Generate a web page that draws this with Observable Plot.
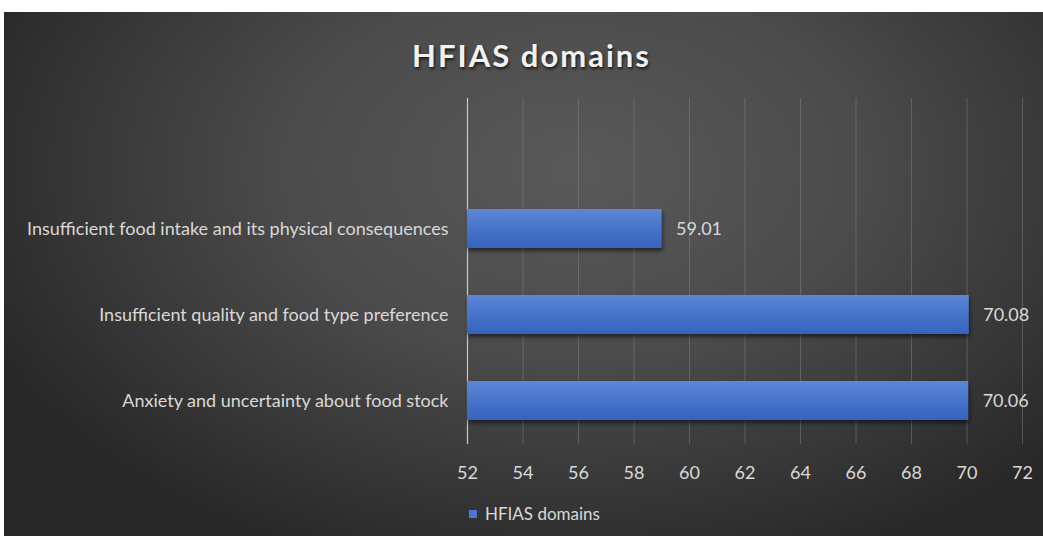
<!DOCTYPE html>
<html><head><meta charset="utf-8">
<script src="https://cdn.jsdelivr.net/npm/d3@7"></script>
<script src="https://cdn.jsdelivr.net/npm/@observablehq/plot@0.6"></script>
<style>
body{margin:0;background:#fff;}
#wrap{position:relative;width:1043px;height:536px;overflow:hidden;background:#fff;}
#panel{position:absolute;left:4px;top:12px;width:1039px;height:524px;
  background:radial-gradient(ellipse 62% 80% at 55% 30%, #595959 0%, #4b4b4b 45%, #353535 80%, #282828 100%);}
#title{position:absolute;top:36px;left:10px;width:1043px;text-align:center;font-family:Lato,"Open Sans",sans-serif;font-weight:bold;font-size:31px;letter-spacing:2px;color:#f2f2f2;text-shadow:1px 2px 3px rgba(0,0,0,0.7);}
#chart{position:absolute;left:0;top:0;}
#legend{position:absolute;top:503px;left:469px;font-family:Lato,"Open Sans",sans-serif;font-size:17px;color:#d9d9d9;display:flex;align-items:center;}
#legend span.sw{display:inline-block;width:8px;height:8px;background:#4a78d6;margin-right:8px;}
</style></head>
<body>
<div id="wrap">
  <div id="panel"></div>
  <div id="chart"></div>
  <div id="title">HFIAS domains</div>
  <div id="legend"><span class="sw"></span>HFIAS domains</div>
</div>
<script>
const categories = [
  "Anxiety and uncertainty about food stock",
  "Insufficient quality and food type preference",
  "Insufficient food intake and its physical consequences"
];
const values = [70.06, 70.08, 59.01];
const xTicks = [52, 54, 56, 58, 60, 62, 64, 66, 68, 70, 72];
const baseline = 52;

const data = categories.map((c, i) => ({category: c, value: values[i]}));
const yDomain = ["", ...categories.slice().reverse()];

const plot = Plot.plot({
  width: 1043,
  height: 536,
  marginLeft: 467,
  marginRight: 21,
  marginTop: 98,
  marginBottom: 92,
  style: {background: "transparent", fontFamily: "Lato, 'Open Sans', sans-serif", color: "#d9d9d9"},
  x: {domain: [52, 72], ticks: xTicks, tickSize: 0, tickPadding: 22, label: null, tickFormat: d => d},
  y: {domain: yDomain, paddingInner: 0.55, paddingOuter: 0.275, tickSize: 0, tickPadding: 19, label: null},
  marks: [
    Plot.ruleX(xTicks.filter(d => d !== baseline), {stroke: "#8a8a8a", strokeOpacity: 0.45, strokeWidth: 1}),
    Plot.ruleX([baseline], {stroke: "#c8c8c8", strokeWidth: 1.2}),
    Plot.barX(data, {y: "category", x1: baseline, x2: "value", fill: "url(#barGrad)"}),
    Plot.text(data, {y: "category", x: "value", text: d => d.value.toFixed(2), dx: 14, textAnchor: "start", fill: "#d9d9d9", fontSize: 18}),
    Plot.axisX({ticks: xTicks, tickSize: 0, tickPadding: 22, fontSize: 18, fill: "#d9d9d9", label: null}),
    Plot.axisY({tickSize: 0, tickPadding: 19, fontSize: 18, fill: "#d9d9d9", label: null, tickFormat: d => d})
  ]
});

const svg = d3.select(plot);
const defs = svg.insert("defs", ":first-child");
const g = defs.append("linearGradient").attr("id", "barGrad").attr("x1", 0).attr("x2", 0).attr("y1", 0).attr("y2", 1);
g.append("stop").attr("offset", "0%").attr("stop-color", "#5d87d8");
g.append("stop").attr("offset", "55%").attr("stop-color", "#4471c8");
g.append("stop").attr("offset", "100%").attr("stop-color", "#3763bd");
const f = defs.append("filter").attr("id", "shadow").attr("x", "-5%").attr("y", "-20%").attr("width", "115%").attr("height", "160%");
f.append("feDropShadow").attr("dx", 1).attr("dy", 3).attr("stdDeviation", 2).attr("flood-color", "#000").attr("flood-opacity", 0.55);
svg.selectAll("[aria-label='bar'] rect").attr("filter", "url(#shadow)");

document.getElementById("chart").appendChild(plot);
</script>
</body></html>
